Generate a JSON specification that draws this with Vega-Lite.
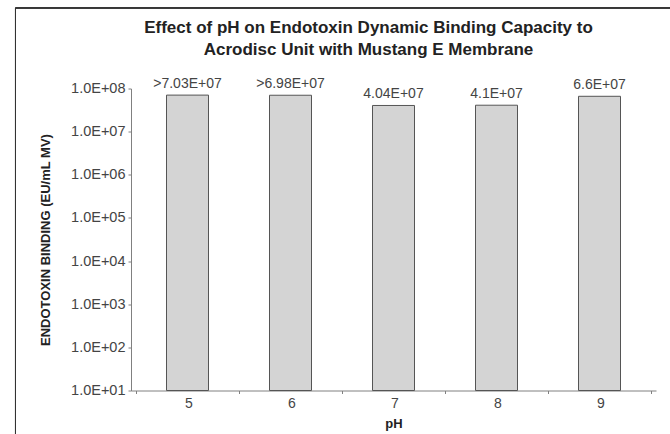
{
  "$schema": "https://vega.github.io/schema/vega-lite/v6.json",
  "width": 525,
  "height": 302,
  "autosize": {"type": "none"},
  "padding": {"left": 131, "top": 88.5, "right": 14, "bottom": 43.5},
  "background": "white",
  "title": {
    "text": ["Effect of pH on Endotoxin Dynamic Binding Capacity to", "Acrodisc Unit with Mustang E Membrane"],
    "font": "Liberation Sans",
    "fontSize": 17,
    "fontWeight": "bold",
    "color": "#222",
    "anchor": "middle",
    "frame": "group",
    "dx": -25,
    "lineHeight": 22.6,
    "offset": -52
  },
  "config": {
    "view": {"stroke": null},
    "font": "Liberation Sans"
  },
  "data": {
    "values": [
      {"pH": 5, "binding": 70300000, "label": ">7.03E+07"},
      {"pH": 6, "binding": 69800000, "label": ">6.98E+07"},
      {"pH": 7, "binding": 40400000, "label": "4.04E+07"},
      {"pH": 8, "binding": 41000000, "label": "4.1E+07"},
      {"pH": 9, "binding": 66000000, "label": "6.6E+07"}
    ]
  },
  "layer": [
    {
      "mark": {"type": "rect", "fill": null, "stroke": "#333", "strokeWidth": 1},
      "encoding": {
        "x": {"datum": 3.33, "type": "quantitative", "scale": {"domain": [4.5, 9.5], "nice": false, "zero": false}},
        "x2": {"datum": 9.8},
        "y": {"datum": 7350000000, "type": "quantitative", "scale": {"type": "log", "domain": [10, 100000000], "nice": false}},
        "y2": {"datum": 0.7}
      }
    },
    {
      "mark": {"type": "bar", "size": 42, "fill": "#d4d4d4", "stroke": "#555", "strokeWidth": 1},
      "encoding": {
        "x": {
          "field": "pH", "type": "quantitative",
          "scale": {"domain": [4.5, 9.5], "nice": false, "zero": false},
          "axis": {
            "title": "pH",
            "values": [4.5, 5.5, 6.5, 7.5, 8.5, 9.5],
            "labelExpr": "datum.value < 9 ? format(datum.value + 0.5, 'd') : ''",
            "labelOffset": 52.5,
            "grid": false,
            "domainColor": "#808080",
            "tickColor": "#808080",
            "tickSize": 3,
            "labelFont": "Liberation Sans",
            "labelFontSize": 14,
            "labelColor": "#444",
            "labelPadding": 3,
            "labelFlush": false,
            "labelOverlap": false,
            "titleFont": "Liberation Sans",
            "titleFontSize": 13,
            "titleFontWeight": "bold",
            "titleColor": "#222",
            "titlePadding": 7
          }
        },
        "y": {
          "field": "binding", "type": "quantitative",
          "scale": {"type": "log", "domain": [10, 100000000], "nice": false},
          "axis": {
            "title": "ENDOTOXIN BINDING (EU/mL MV)",
            "values": [10, 100, 1000, 10000, 100000, 1000000, 10000000, 100000000],
            "labelExpr": "'1.0E+' + (round(log(datum.value) / LN10) < 10 ? '0' : '') + round(log(datum.value) / LN10)",
            "grid": false,
            "domainColor": "#808080",
            "tickColor": "#808080",
            "tickSize": 3,
            "labelFont": "Liberation Sans",
            "labelFontSize": 14.5,
            "labelColor": "#444",
            "labelPadding": 3,
            "labelFlush": false,
            "labelOverlap": false,
            "titleFont": "Liberation Sans",
            "titleFontSize": 13,
            "titleFontWeight": "bold",
            "titleColor": "#222",
            "titlePadding": 18
          }
        },
        "y2": {"datum": 10}
      }
    },
    {
      "mark": {"type": "text", "baseline": "alphabetic", "dy": -7, "font": "Liberation Sans", "fontSize": 14, "color": "#444"},
      "encoding": {
        "x": {"field": "pH", "type": "quantitative"},
        "y": {"field": "binding", "type": "quantitative"},
        "text": {"field": "label"}
      }
    }
  ]
}
